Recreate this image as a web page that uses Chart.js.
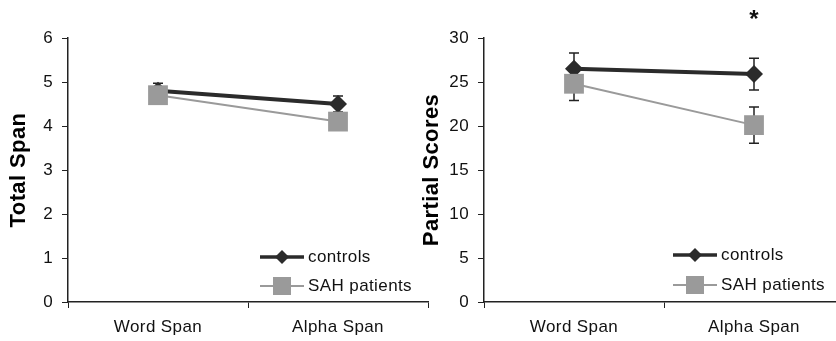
<!DOCTYPE html>
<html>
<head>
<meta charset="utf-8">
<script src="https://cdn.jsdelivr.net/npm/chart.js@4/dist/chart.umd.min.js"></script>
<style>
  html, body { margin: 0; padding: 0; background: #fff; overflow: hidden; }
  #wrap { position: relative; width: 836px; height: 341px; overflow: hidden; }
  canvas { position: absolute; top: 0; }
</style>
</head>
<body>
<div id="wrap">
  <canvas id="spanChart" width="430" height="341" style="left:0px"></canvas>
  <canvas id="partialChart" width="430" height="341" style="left:416px"></canvas>
</div>
<script>
// values
const categories = ["Word Span", "Alpha Span"];
const legendLabels = ["controls", "SAH patients"];

const spanControls = [4.8, 4.5];
const spanControlsErr = [0.17, 0.18];
const spanSah = [4.7, 4.1];
const spanSahErr = [0.12, 0.12];
const spanTicks = [0, 6, 1];          // min, max, step

const partialControls = [26.5, 25.9];
const partialControlsErr = [1.8, 1.8];
const partialSah = [24.8, 20.1];
const partialSahErr = [1.9, 2.05];
const partialTicks = [0, 30, 5];

const fontFamily = "'Liberation Sans', Arial, sans-serif";
const darkColor = "#2b2b2b";
const greyColor = "#9a9a9a";

// slightly looser letters like the scanned original
const spacing = {
    id: "spacing",
    beforeDraw(chart) {
        chart.ctx.letterSpacing = "0.4px";
    }
};

// vertical error bars with small caps, behind the markers
const errorBars = {
    id: "errorBars",
    beforeDatasetsDraw(chart) {
        const ctx = chart.ctx;
        const y = chart.scales.y;
        ctx.save();
        ctx.strokeStyle = "#222";
        ctx.lineWidth = 1.5;
        chart.data.datasets.forEach((ds, i) => {
            const meta = chart.getDatasetMeta(i);
            meta.data.forEach((pt, j) => {
                const v = ds.data[j], e = ds.errors[j];
                const top = y.getPixelForValue(v + e);
                const bot = y.getPixelForValue(v - e);
                ctx.beginPath();
                ctx.moveTo(pt.x, top); ctx.lineTo(pt.x, bot);
                ctx.moveTo(pt.x - 5, top); ctx.lineTo(pt.x + 5, top);
                ctx.moveTo(pt.x - 5, bot); ctx.lineTo(pt.x + 5, bot);
                ctx.stroke();
            });
        });
        ctx.restore();
    }
};

// legend inside the lower right of the plot
const innerLegend = {
    id: "innerLegend",
    afterDraw(chart, args, opts) {
        const ctx = chart.ctx;
        const area = chart.chartArea;
        const x0 = area.left + opts.dx;
        ctx.save();
        legendLabels.forEach((label, i) => {
            const ds = chart.data.datasets.find(d => d.label === label);
            const yy = area.bottom - opts.rows[i];
            ctx.strokeStyle = ds.borderColor;
            ctx.lineWidth = ds.legendLine;
            ctx.beginPath();
            ctx.moveTo(x0, yy); ctx.lineTo(x0 + 44, yy);
            ctx.stroke();
            const cx = x0 + 22;
            ctx.fillStyle = ds.backgroundColor;
            ctx.beginPath();
            if (ds.pointStyle === "rectRot") {
                const r = 7;
                ctx.moveTo(cx, yy - r); ctx.lineTo(cx + r, yy);
                ctx.lineTo(cx, yy + r); ctx.lineTo(cx - r, yy);
                ctx.closePath();
            } else {
                ctx.rect(cx - 9, yy - 9, 18, 18);
            }
            ctx.fill();
            ctx.fillStyle = "#111";
            ctx.font = "17px " + fontFamily;
            ctx.textAlign = "left";
            ctx.textBaseline = "middle";
            ctx.fillText(label, x0 + 48, yy);
        });
        ctx.restore();
    }
};

// significance mark above a category
const starMark = {
    id: "starMark",
    afterDraw(chart, args, opts) {
        if (!opts.marks) return;
        const ctx = chart.ctx;
        ctx.save();
        ctx.fillStyle = "#111";
        ctx.font = "bold 24px " + fontFamily;
        ctx.textAlign = "center";
        ctx.textBaseline = "middle";
        opts.marks.forEach(m => {
            ctx.fillText(m.text, chart.scales.x.getPixelForValue(m.index), 20);
        });
        ctx.restore();
    }
};

function MakeChart(canvasId, title, controls, controlsErr, sah, sahErr, ticks, legendPos, marks, titlePad) {
    const tickFont = { family: fontFamily, size: 17 };
    return new Chart(document.getElementById(canvasId), {
        type: "line",
        data: {
            labels: categories,
            datasets: [
                {
                    label: "controls",
                    data: controls,
                    errors: controlsErr,
                    borderColor: darkColor,
                    backgroundColor: darkColor,
                    borderWidth: 4,
                    legendLine: 3.5,
                    pointStyle: "rectRot",
                    pointRadius: 9,
                    pointBorderWidth: 0,
                    order: 1
                },
                {
                    label: "SAH patients",
                    data: sah,
                    errors: sahErr,
                    borderColor: greyColor,
                    backgroundColor: greyColor,
                    borderWidth: 2,
                    legendLine: 2,
                    pointStyle: "rect",
                    pointRadius: 14,
                    pointBorderWidth: 0,
                    order: 0
                }
            ]
        },
        options: {
            responsive: false,
            animation: false,
            layout: { autoPadding: false, padding: { top: 38, right: 2, left: 0, bottom: 0 } },
            plugins: {
                legend: { display: false },
                tooltip: { enabled: false },
                innerLegend: legendPos,
                starMark: { marks: marks }
            },
            scales: {
                x: {
                    type: "category",
                    offset: true,
                    grid: { offset: true, drawOnChartArea: false, tickLength: 6, color: "#222", lineWidth: 1 },
                    border: { color: "#222", width: 1.5 },
                    ticks: { font: tickFont, color: "#111", padding: 9, maxRotation: 0 },
                    afterFit(scale) {
                        scale.height = 39;
                        scale.paddingLeft = 0;
                        scale.paddingRight = 0;
                    }
                },
                y: {
                    min: ticks[0],
                    max: ticks[1],
                    grid: { drawOnChartArea: false, tickLength: 6, color: "#222", lineWidth: 1 },
                    border: { color: "#222", width: 1.5 },
                    ticks: { stepSize: ticks[2], font: tickFont, color: "#111", padding: 9 },
                    title: {
                        display: true,
                        text: title,
                        color: "#000",
                        font: { family: fontFamily, size: 22, weight: "bold" },
                        padding: { top: titlePad, bottom: 0 }
                    },
                    afterFit(scale) { scale.width = 68; }
                }
            }
        },
        plugins: [spacing, errorBars, innerLegend, starMark]
    });
}

MakeChart("spanChart", "Total Span", spanControls, spanControlsErr, spanSah, spanSahErr,
    spanTicks, { dx: 192, rows: [45, 16] }, null, 6);
MakeChart("partialChart", "Partial Scores", partialControls, partialControlsErr, partialSah, partialSahErr,
    partialTicks, { dx: 189, rows: [47, 17] }, [{ index: 1, text: "*" }], 3);
</script>
</body>
</html>
